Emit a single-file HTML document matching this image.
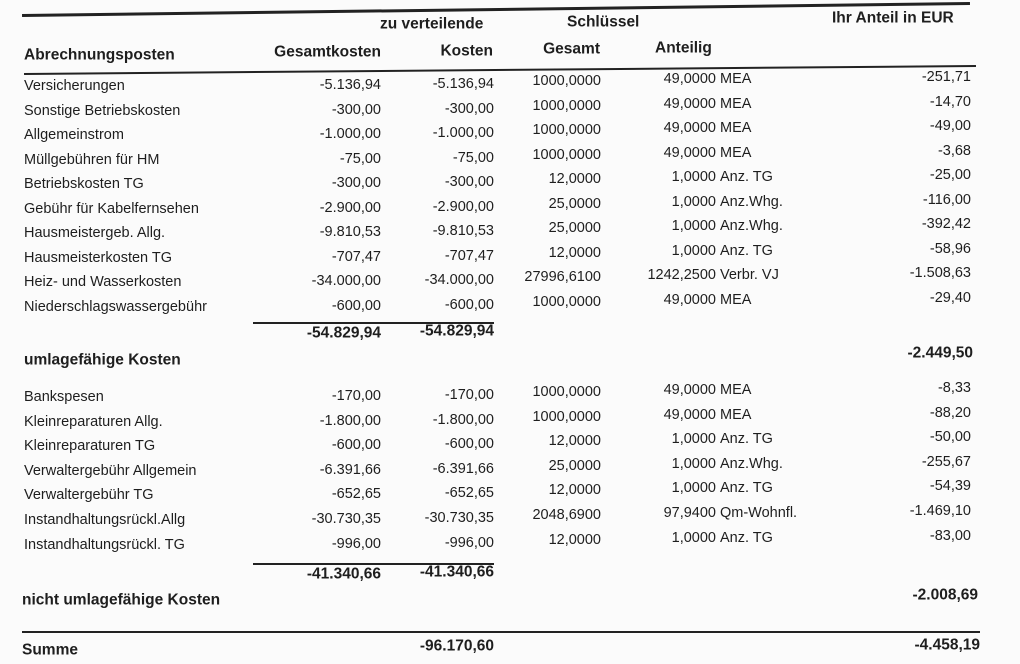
<!DOCTYPE html>
<html><head><meta charset="utf-8"><style>
body{margin:0;width:1020px;height:664px;background:#fbfbfb;overflow:hidden;position:relative;font-family:"Liberation Sans",sans-serif;color:#1e1e1e}
.t{position:absolute;font-size:14.5px;white-space:nowrap;line-height:1;transform:translateY(-50%)}
.b{font-weight:bold;font-size:15.5px}
.l{position:absolute;background:#222}
</style></head><body>
<div class="l" style="left:22px;top:8px;width:948px;height:3px;transform:rotate(-0.72deg)"></div>
<div class="l" style="left:24px;top:69px;width:952px;height:2px;transform:rotate(-0.48deg)"></div>
<div class="l" style="left:253px;top:322px;width:241px;height:2px"></div>
<div class="l" style="left:253px;top:563px;width:241px;height:2px"></div>
<div class="l" style="left:22px;top:631px;width:958px;height:2px"></div>
<div id="c"></div>
<script>
const c=document.getElementById('c');
function T(txt,x,y,opt){const d=document.createElement('div');d.className='t'+(opt&&opt.b?' b':'');d.textContent=txt;d.style.top=y+'px';if(opt&&opt.r){d.style.right=(1020-x)+'px';}else d.style.left=x+'px';c.appendChild(d);}
T('zu verteilende',380,24,{b:1});T('Schlüssel',567,22,{b:1});T('Ihr Anteil  in EUR',832,18,{b:1});
T('Abrechnungsposten',24,55,{b:1});T('Gesamtkosten',381,52,{b:1,r:1});T('Kosten',493,51,{b:1,r:1});T('Gesamt',600,49,{b:1,r:1});T('Anteilig',655,48,{b:1});
const A=[['Versicherungen','-5.136,94','1000,0000','49,0000','MEA','-251,71'],
['Sonstige Betriebskosten','-300,00','1000,0000','49,0000','MEA','-14,70'],
['Allgemeinstrom','-1.000,00','1000,0000','49,0000','MEA','-49,00'],
['Müllgebühren für HM','-75,00','1000,0000','49,0000','MEA','-3,68'],
['Betriebskosten TG','-300,00','12,0000','1,0000','Anz. TG','-25,00'],
['Gebühr für Kabelfernsehen','-2.900,00','25,0000','1,0000','Anz.Whg.','-116,00'],
['Hausmeistergeb. Allg.','-9.810,53','25,0000','1,0000','Anz.Whg.','-392,42'],
['Hausmeisterkosten TG','-707,47','12,0000','1,0000','Anz. TG','-58,96'],
['Heiz- und Wasserkosten','-34.000,00','27996,6100','1242,2500','Verbr. VJ','-1.508,63'],
['Niederschlagswassergebühr','-600,00','1000,0000','49,0000','MEA','-29,40']];
const B=[['Bankspesen','-170,00','1000,0000','49,0000','MEA','-8,33'],
['Kleinreparaturen Allg.','-1.800,00','1000,0000','49,0000','MEA','-88,20'],
['Kleinreparaturen TG','-600,00','12,0000','1,0000','Anz. TG','-50,00'],
['Verwaltergebühr Allgemein','-6.391,66','25,0000','1,0000','Anz.Whg.','-255,67'],
['Verwaltergebühr TG','-652,65','12,0000','1,0000','Anz. TG','-54,39'],
['Instandhaltungsrückl.Allg','-30.730,35','2048,6900','97,9400','Qm-Wohnfl.','-1.469,10'],
['Instandhaltungsrückl. TG','-996,00','12,0000','1,0000','Anz. TG','-83,00']];
function rows(R,y0,dy){R.forEach((r,i)=>{const y=y0+i*dy;T(r[0],24,y);T(r[1],381,y-1,{r:1});T(r[1],494,y-2,{r:1});T(r[2],601,y-5,{r:1});T(r[3],716,y-7,{r:1});T(r[4],720,y-7);T(r[5],971,y-9,{r:1});});}
rows(A,86,24.5);rows(B,397,24.6);
T('-54.829,94',381,333,{b:1,r:1});T('-54.829,94',494,331,{b:1,r:1});
T('umlagefähige Kosten',24,360,{b:1});T('-2.449,50',973,353,{b:1,r:1});
T('-41.340,66',381,574,{b:1,r:1});T('-41.340,66',494,572,{b:1,r:1});
T('nicht umlagefähige Kosten',22,600,{b:1});T('-2.008,69',978,595,{b:1,r:1});
T('Summe',22,650,{b:1});T('-96.170,60',494,646,{b:1,r:1});T('-4.458,19',980,645,{b:1,r:1});
</script>
</body></html>
